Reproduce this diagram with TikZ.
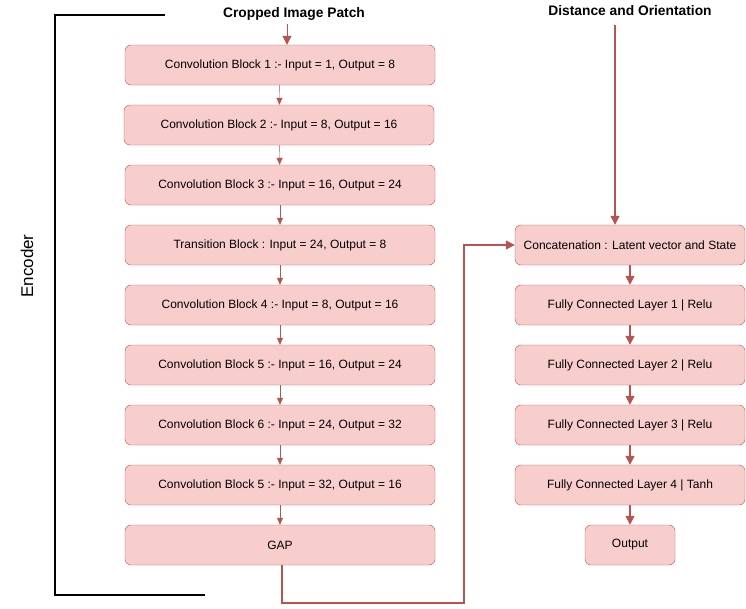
\documentclass[tikz,border=0pt]{standalone}
\usepackage{fontspec}
\setmainfont{Liberation Sans}
\usetikzlibrary{arrows.meta}
\definecolor{boxfill}{HTML}{F8CECC}
\definecolor{boxline}{HTML}{B85450}

\tikzset{
  block/.style   = {draw=boxline, fill=boxfill, rounded corners=6pt, minimum height=40pt,
                    inner sep=0pt, font=\fontsize{12}{14}\selectfont},
  encblock/.style = {block, minimum width=310pt},
  fcblock/.style  = {block, minimum width=230pt},
  link/.style    = {draw=boxline, -{Triangle[length=7pt,width=6pt]}},
  biglink/.style = {draw=boxline, line width=1.5pt, -{Triangle[length=9pt,width=9pt]}},
  title/.style   = {font=\fontsize{13.8}{16}\selectfont\bfseries}
}

\begin{document}
\begin{tikzpicture}[x=1pt, y=-1pt]
\useasboundingbox (0,0) rectangle (746,608);

% encoder column
\node[encblock] (c1) at (280,65)  {Convolution Block 1 :- Input = 1, Output = 8};
\node[encblock] (c2) at (279,125) {Convolution Block 2 :- Input = 8, Output = 16};
\node[encblock] (c3) at (280,185) {Convolution Block 3 :- Input = 16, Output = 24};
\node[encblock] (tb) at (280,245) {Transition Block : Input = 24, Output = 8};
\node[encblock] (c4) at (280,305) {Convolution Block 4 :- Input = 8, Output = 16};
\node[encblock] (c5) at (280,365) {Convolution Block 5 :- Input = 16, Output = 24};
\node[encblock] (c6) at (280,425) {Convolution Block 6 :- Input = 24, Output = 32};
\node[encblock] (c7) at (280,485) {Convolution Block 5 :- Input = 32, Output = 16};
\node[encblock] (gap) at (280,545) {GAP};

\draw[link] (c1) -- (c2);
\draw[link] (c2) -- (c3);
\draw[link] (c3) -- (tb);
\draw[link] (tb) -- (c4);
\draw[link] (c4) -- (c5);
\draw[link] (c5) -- (c6);
\draw[link] (c6) -- (c7);
\draw[link] (c7) -- (gap);

\node[title] (img) at (294,14) {Cropped Image Patch};
\draw[biglink, line width=1pt] (img.south -| 287,0) -- (c1.north -| 287,0);

% bracket
\coordinate (b1) at (165,15);
\coordinate (b2) at (205,595);
\draw[line width=1.5pt] (b1) -| (55,595) -- (b2);
\node[rotate=90, font=\fontsize{17}{19}\selectfont] (enc) at (27,266) {Encoder};

% head
\node[fcblock] (cat) at (630,245) {Concatenation : Latent vector and State};
\node[fcblock] (fc1) at (630,305) {Fully Connected Layer 1 | Relu};
\node[fcblock] (fc2) at (630,365) {Fully Connected Layer 2 | Relu};
\node[fcblock] (fc3) at (630,425) {Fully Connected Layer 3 | Relu};
\node[fcblock] (fc4) at (630,485) {Fully Connected Layer 4 | Tanh};
\node[block, minimum width=90pt] (out) at (630,545) {Output};

\draw[biglink] (cat) -- (fc1);
\draw[biglink] (fc1) -- (fc2);
\draw[biglink] (fc2) -- (fc3);
\draw[biglink] (fc3) -- (fc4);
\draw[biglink] (fc4) -- (out);

\node[title] (dist) at (630,11) {Distance and Orientation};
\coordinate (d1) at (615,25);
\draw[biglink] (d1) -- (d1 |- cat.north);

\draw[biglink, rounded corners=0pt] (gap.south -| 282,0) -- (282,603) -- (464,603) |- (cat.west);
\end{tikzpicture}
\end{document}
